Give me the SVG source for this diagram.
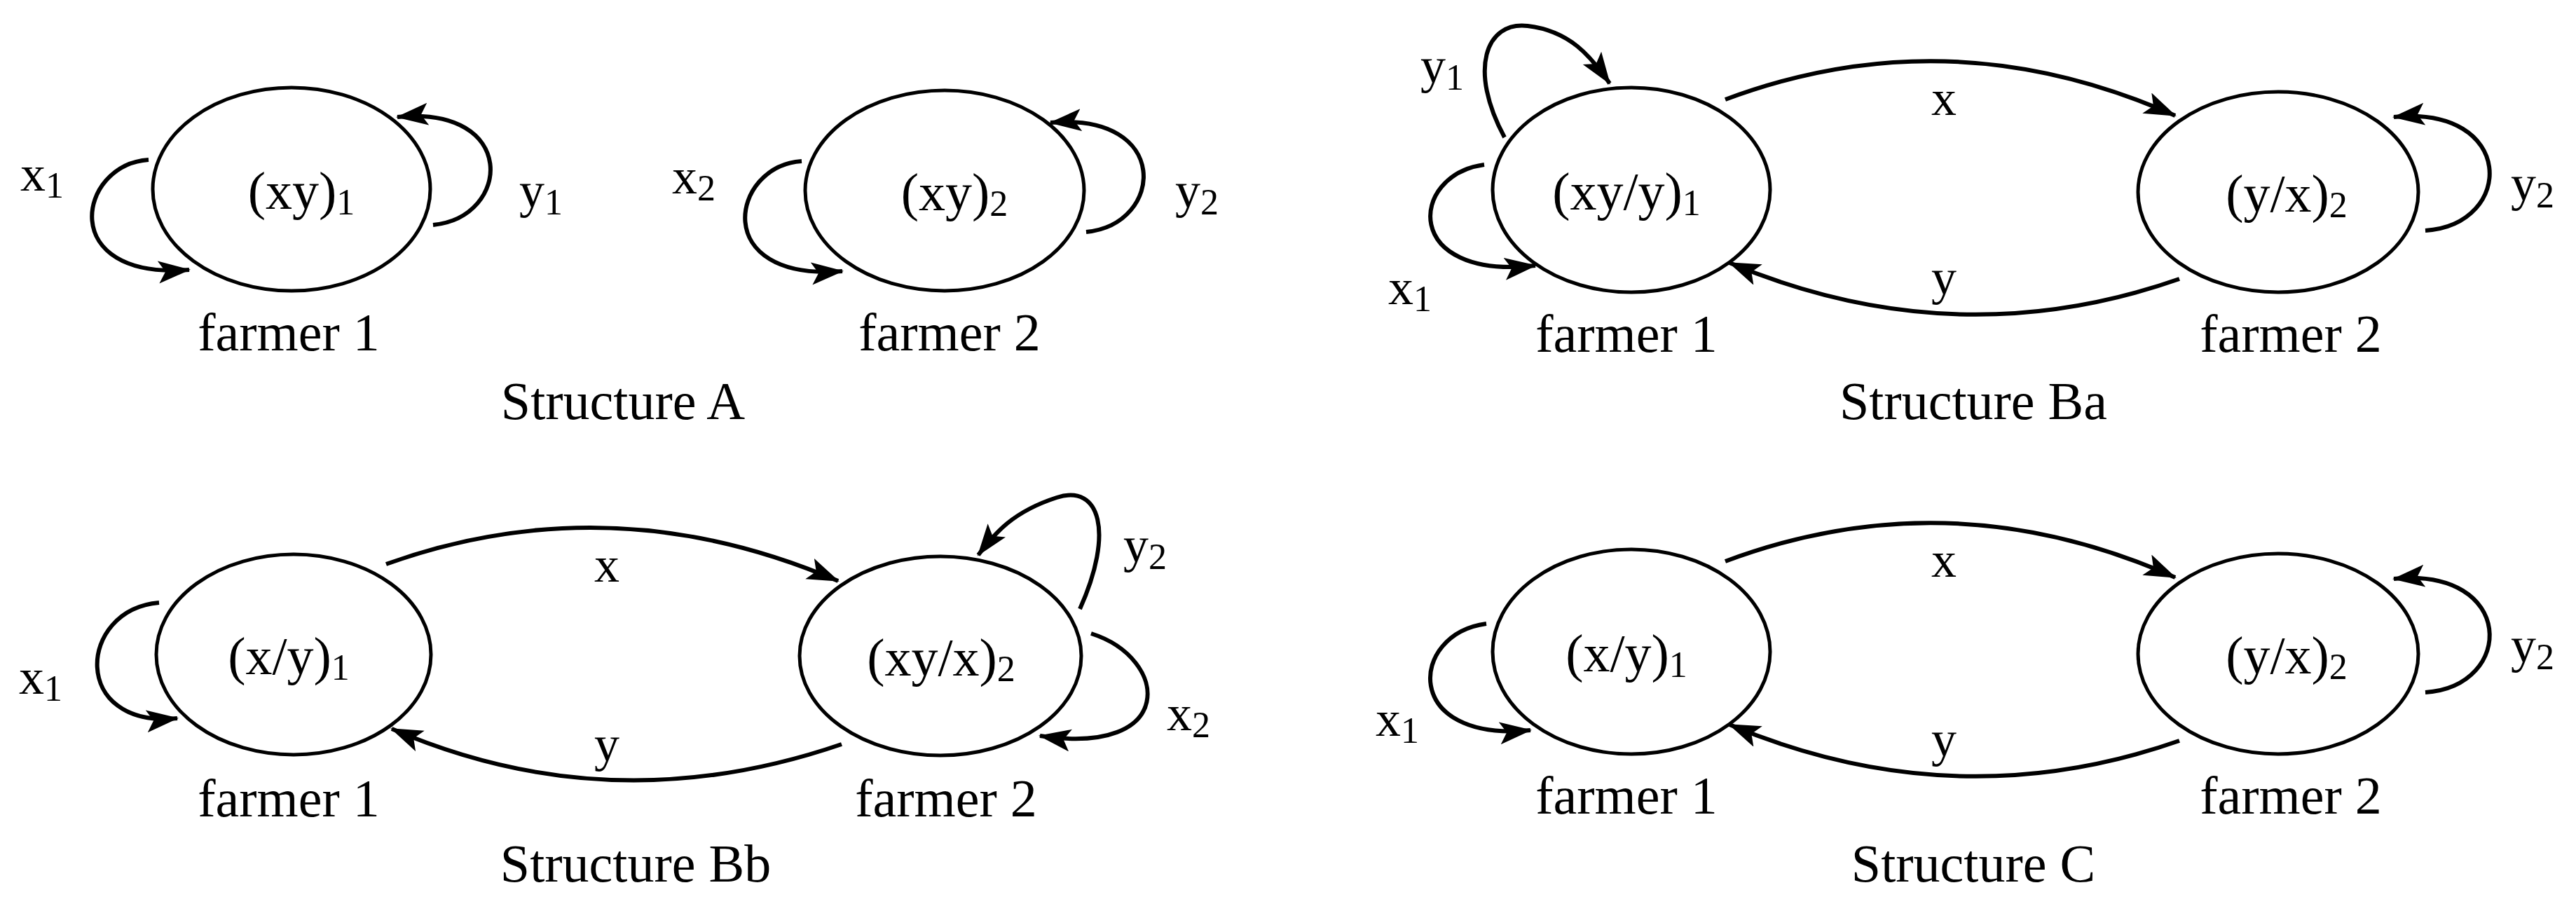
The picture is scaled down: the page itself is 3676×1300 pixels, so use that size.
<svg xmlns="http://www.w3.org/2000/svg" width="3676" height="1300" viewBox="0 0 3676 1300">
<style>
text{font-family:"Liberation Serif","Times New Roman",serif;fill:#000}
.n{font-size:76px;text-anchor:middle;dominant-baseline:central}
.l{font-size:72px;text-anchor:middle;dominant-baseline:central}
.f{font-size:76px;text-anchor:middle}
.s{font-size:52px}
ellipse{fill:none;stroke:#000;stroke-width:5}
.c{fill:none;stroke:#000;stroke-width:6;marker-end:url(#ah)}
</style>
<defs>
<marker id="ah" markerUnits="userSpaceOnUse" markerWidth="50" markerHeight="36" refX="44" refY="16" orient="auto">
<path d="M0,0 L46,16 L0,32 L10,16 z" fill="#000"/>
</marker>
</defs>
<rect width="3676" height="1300" fill="#fff"/>
<!-- Structure A -->
<g id="A-farmer1"><ellipse cx="416" cy="270" rx="198" ry="145"/><text class="n" x="430" y="272">(xy)<tspan class="s" dy="16">1</tspan></text><text class="f" x="412" y="500">farmer 1</text></g>
<g id="A-farmer2"><ellipse cx="1348" cy="272" rx="199" ry="143"/><text class="n" x="1362" y="274">(xy)<tspan class="s" dy="16">2</tspan></text><text class="f" x="1355" y="500">farmer 2</text></g>
<g id="A-connectors">
<path class="c" d="M212,228 C110,235 80,400 270,385"/>
<path class="c" d="M618,321 C730,310 740,150 567,167"/>
<path class="c" d="M1144,230 C1042,237 1012,402 1202,387"/>
<path class="c" d="M1550,331 C1662,320 1672,160 1499,175"/>
<text class="l" x="60" y="248">x<tspan class="s" dy="16">1</tspan></text>
<text class="l" x="772" y="272">y<tspan class="s" dy="16">1</tspan></text>
<text class="l" x="990" y="252">x<tspan class="s" dy="16">2</tspan></text>
<text class="l" x="1708" y="272">y<tspan class="s" dy="16">2</tspan></text>
</g>
<text class="f" x="889" y="598">Structure A</text>
<!-- Structure Ba -->
<g id="Ba-farmer1"><ellipse cx="2328" cy="271" rx="198" ry="146"/><text class="n" x="2321" y="273">(xy/y)<tspan class="s" dy="16">1</tspan></text><text class="f" x="2321" y="502">farmer 1</text></g>
<g id="Ba-farmer2"><ellipse cx="3251" cy="274" rx="200" ry="143"/><text class="n" x="3263" y="276">(y/x)<tspan class="s" dy="16">2</tspan></text><text class="f" x="3269" y="502">farmer 2</text></g>
<g id="Ba-connectors">
<path class="c" d="M2462,142 Q2783,22 3104,165"/>
<path class="c" d="M3110,398 Q2790,510 2468,375"/>
<path class="c" d="M2118,235 C2010,250 2000,400 2191,379"/>
<path class="c" d="M2147,196 C2095,100 2120,30 2180,37 S2270,80 2297,119"/>
<path class="c" d="M3461,329 C3590,320 3590,150 3416,167"/>
<text class="l" x="2774" y="140">x</text>
<text class="l" x="2774" y="396">y</text>
<text class="l" x="2058" y="94">y<tspan class="s" dy="16">1</tspan></text>
<text class="l" x="2012" y="410">x<tspan class="s" dy="16">1</tspan></text>
<text class="l" x="3614" y="262">y<tspan class="s" dy="16">2</tspan></text>
</g>
<text class="f" x="2816" y="598">Structure Ba</text>
<!-- Structure Bb -->
<g id="Bb-farmer1"><ellipse cx="419" cy="934" rx="196" ry="143"/><text class="n" x="412" y="936">(x/y)<tspan class="s" dy="16">1</tspan></text><text class="f" x="412" y="1165">farmer 1</text></g>
<g id="Bb-farmer2"><ellipse cx="1342" cy="936" rx="201" ry="142"/><text class="n" x="1343" y="938">(xy/x)<tspan class="s" dy="16">2</tspan></text><text class="f" x="1350" y="1165">farmer 2</text></g>
<g id="Bb-connectors">
<path class="c" d="M551,805 Q872,690 1196,829"/>
<path class="c" d="M1201,1062 Q872,1175 559,1040"/>
<path class="c" d="M227,860 C110,870 100,1040 253,1025"/>
<path class="c" d="M1541,869 C1590,760 1570,690 1508,710 S1420,760 1396,792"/>
<path class="c" d="M1557,904 C1670,940 1680,1080 1484,1050"/>
<text class="l" x="866" y="806">x</text>
<text class="l" x="866" y="1062">y</text>
<text class="l" x="58" y="966">x<tspan class="s" dy="16">1</tspan></text>
<text class="l" x="1634" y="778">y<tspan class="s" dy="16">2</tspan></text>
<text class="l" x="1696" y="1018">x<tspan class="s" dy="16">2</tspan></text>
</g>
<text class="f" x="907" y="1258">Structure Bb</text>
<!-- Structure C -->
<g id="C-farmer1"><ellipse cx="2328" cy="930" rx="198" ry="146"/><text class="n" x="2321" y="932">(x/y)<tspan class="s" dy="16">1</tspan></text><text class="f" x="2321" y="1161">farmer 1</text></g>
<g id="C-farmer2"><ellipse cx="3251" cy="933" rx="200" ry="143"/><text class="n" x="3263" y="935">(y/x)<tspan class="s" dy="16">2</tspan></text><text class="f" x="3269" y="1161">farmer 2</text></g>
<g id="C-connectors">
<path class="c" d="M2462,801 Q2783,681 3104,824"/>
<path class="c" d="M3110,1057 Q2790,1169 2468,1034"/>
<path class="c" d="M2121,890 C2010,905 2000,1060 2184,1042"/>
<path class="c" d="M3461,988 C3590,979 3590,809 3416,826"/>
<text class="l" x="2774" y="799">x</text>
<text class="l" x="2774" y="1055">y</text>
<text class="l" x="1994" y="1026">x<tspan class="s" dy="16">1</tspan></text>
<text class="l" x="3614" y="921">y<tspan class="s" dy="16">2</tspan></text>
</g>
<text class="f" x="2816" y="1258">Structure C</text>
</svg>
